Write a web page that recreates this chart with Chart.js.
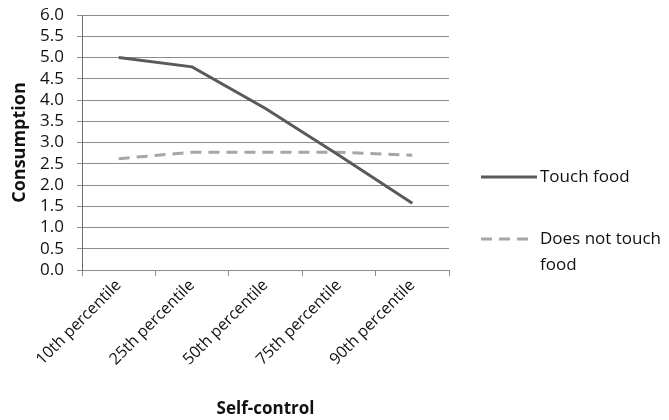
<!DOCTYPE html>
<html>
<head>
<meta charset="utf-8">
<script src="https://cdn.jsdelivr.net/npm/chart.js@4"></script>
<style>
  html, body { margin: 0; padding: 0; background: #fff; }
  #wrap { width: 669px; height: 420px; position: relative; }
</style>
</head>
<body>
<div id="wrap"><canvas id="chart"></canvas></div>
<script>
// data
var categories = ["10th percentile", "25th percentile", "50th percentile", "75th percentile", "90th percentile"];
var touchFood = [5.0, 4.78, 3.8, 2.7, 1.57];
var noTouchFood = [2.62, 2.77, 2.77, 2.77, 2.7];
var seriesNames = ["Touch food", ["Does not touch", "food"]];

var FONT = "'Open Sans', Lato, sans-serif";

// draws the legend to the right of the plot, like the original
var sideLegend = {
  id: "sideLegend",
  afterDraw: function (chart) {
    var ctx = chart.ctx;
    var items = [
      { y: 177, color: "#5a5a5a", dash: [], x2: 537 },
      { y: 239, color: "#a6a6a6", dash: [11, 7], x2: 529 }
    ];
    ctx.save();
    ctx.font = "17px " + FONT;
    ctx.fillStyle = "#111";
    ctx.textBaseline = "middle";
    items.forEach(function (it, i) {
      ctx.beginPath();
      ctx.lineWidth = 3;
      ctx.strokeStyle = it.color;
      ctx.setLineDash(it.dash);
      ctx.moveTo(481, it.y);
      ctx.lineTo(it.x2, it.y);
      ctx.stroke();
      ctx.setLineDash([]);
      var lines = [].concat(seriesNames[i]);
      lines.forEach(function (t, k) {
        ctx.fillText(t, 540, it.y + k * 26);
      });
    });
    ctx.restore();
  }
};

new Chart(document.getElementById("chart"), {
  type: "line",
  data: {
    labels: categories,
    datasets: [
      {
        label: "Touch food",
        data: touchFood,
        borderColor: "#5a5a5a",
        borderWidth: 3,
        pointRadius: 0,
        tension: 0,
        fill: false
      },
      {
        label: "Does not touch food",
        data: noTouchFood,
        borderColor: "#a6a6a6",
        borderWidth: 3,
        borderDash: [11, 7],
        pointRadius: 0,
        tension: 0,
        fill: false
      }
    ]
  },
  options: {
    responsive: true,
    maintainAspectRatio: false,
    animation: false,
    layout: { padding: { top: 15, right: 220, bottom: 0, left: 0 } },
    plugins: {
      legend: { display: false },
      tooltip: { enabled: false }
    },
    scales: {
      x: {
        offset: true,
        afterFit: function (scale) {
          scale.height = 150;
          scale.paddingLeft = 0;
          scale.paddingRight = 0;
        },
        grid: {
          offset: true,
          drawOnChartArea: false,
          drawTicks: true,
          tickLength: 6,
          color: "#8c8c8c"
        },
        border: { display: true, color: "#8c8c8c", width: 1 },
        ticks: {
          autoSkip: false,
          minRotation: 45,
          maxRotation: 45,
          color: "#111",
          font: { family: FONT, size: 16 },
          padding: 0
        },
        title: {
          display: true,
          text: "Self-control",
          color: "#111",
          font: { family: FONT, size: 17, weight: "bold" },
          padding: { top: 0, bottom: 1 }
        }
      },
      y: {
        min: 0,
        max: 6,
        afterFit: function (scale) {
          scale.width = 82;
          scale.paddingTop = 0;
          scale.paddingBottom = 0;
        },
        ticks: {
          autoSkip: false,
          stepSize: 0.5,
          color: "#111",
          font: { family: FONT, size: 17 },
          padding: 13,
          callback: function (v) { return Number(v).toFixed(1); }
        },
        grid: {
          color: "#8c8c8c",
          lineWidth: 1,
          tickLength: 5
        },
        border: { display: true, color: "#6e6e6e", width: 1 },
        title: {
          display: true,
          text: "Consumption",
          color: "#111",
          font: { family: FONT, size: 18, weight: "bold" },
          padding: { top: 9, bottom: 0 }
        }
      }
    }
  },
  plugins: [sideLegend]
});
</script>
</body>
</html>
